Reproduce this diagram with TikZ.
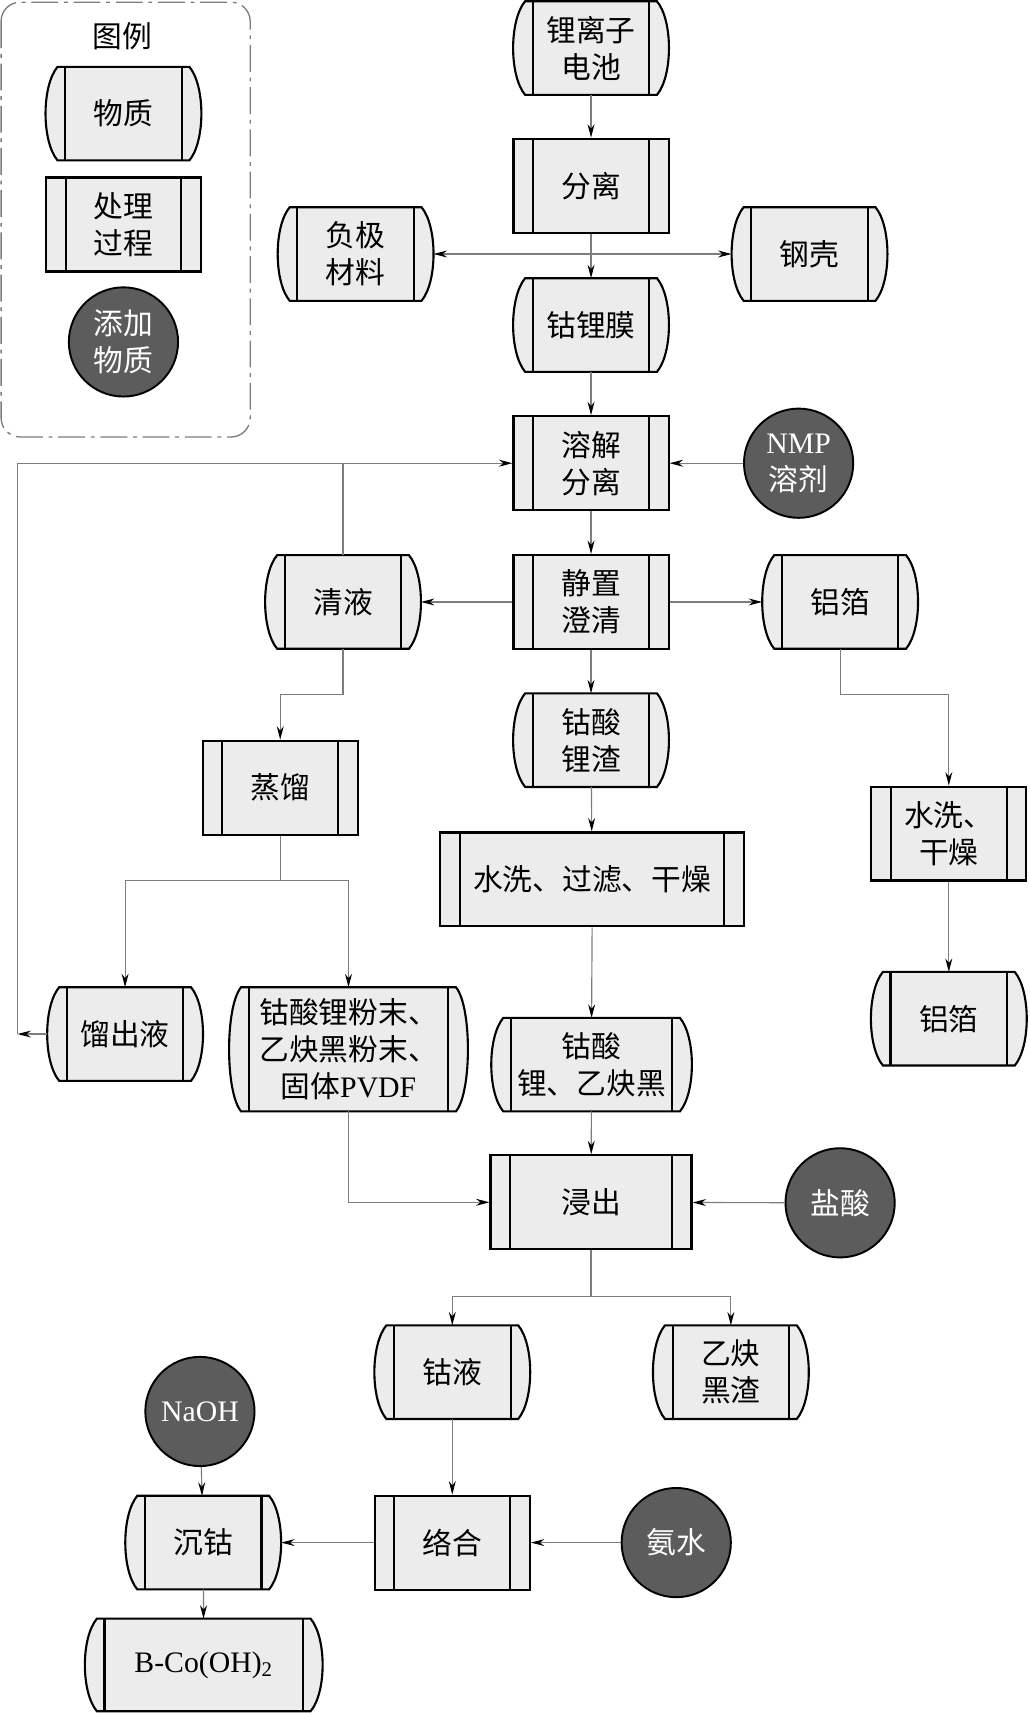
\documentclass[tikz,border=0pt]{standalone}
\usepackage{fontspec}
\setmainfont{Liberation Serif}
\newfontfamily\cjk{Noto Sans CJK SC}
\usepackage{xcolor}
\definecolor{BoxGray}{RGB}{236,236,236}
\definecolor{AddGray}{RGB}{92,92,92}
\definecolor{LineGray}{RGB}{125,125,125}
\usepackage{tikz}
\usetikzlibrary{arrows.meta, backgrounds}
\newcommand{\entxt}[1]{{\rmfamily #1}}

\tikzset{
  inner bars/.style={path picture={
      \draw[line width=1.1pt]
        ([xshift=0.36cm]path picture bounding box.north west) -- ([xshift=0.36cm]path picture bounding box.south west)
        ([xshift=-0.36cm]path picture bounding box.north east) -- ([xshift=-0.36cm]path picture bounding box.south east);}},
  material/.style={rectangle, minimum width=#1, minimum height=1.7cm, inner sep=0pt, align=center},
  material/.default=2.84cm,
  capsule/.style={draw, line width=1.1pt, fill=BoxGray},
  process/.style={rectangle, draw, line width=1.1pt, fill=BoxGray, minimum width=#1,
    minimum height=1.72cm, inner sep=0pt, align=center, inner bars},
  process/.default=2.84cm,
  addition/.style={circle, draw, line width=1pt, fill=AddGray, text=white, minimum size=2cm,
    inner sep=0pt, align=center},
  flow/.style={draw=LineGray, line width=0.6pt, >={Stealth[length=7pt, width=3.6pt, color=black]}, ->},
  link/.style={draw=LineGray, line width=0.6pt},
  legend frame/.style={draw=LineGray, line width=0.7pt, rounded corners=0.35cm,
    dash pattern=on 14pt off 3pt on 2pt off 3pt},
  every node/.style={font=\cjk\fontsize{15.5}{19.3}\selectfont}
}

\begin{document}
\begin{tikzpicture}[x=0.02cm, y=-0.02cm]
\useasboundingbox (0,0) rectangle (942,1568);

% 图例 / legend
\draw[legend frame] (1,2) rectangle (229,400);
\node (legtitle) at (112,33) {图例};
\node[material] (legmat) at (113,104) {物质};
\node[process] (legproc) at (113,205.5) {处理\\过程};
\node[addition] (legadd) at (113,313) {添加\\物质};

% 拆解 / dismantling
\node[material] (battery) at (541,44) {锂离子\\电池};
\node[process] (sep) at (541,170) {分离};
\node[material] (anode) at (325.5,232.5) {负极\\材料};
\node[material] (shell) at (741,232.5) {钢壳};
\node[material] (film) at (541,297.5) {钴锂膜};

% 溶解 / dissolving
\node[process] (dissolve) at (541,424) {溶解\\分离};
\node[addition] (nmp) at (731,424) {\entxt{NMP}\\溶剂};
\node[process] (settle) at (541,551) {静置\\澄清};
\node[material] (clear) at (314,551) {清液};
\node[material] (foil) at (769,551) {铝箔};
\node[material] (slag) at (541,677.5) {钴酸\\锂渣};
\node[process] (distill) at (256.5,721) {蒸馏};
\node[process=5.56cm] (wash) at (542,805) {水洗、过滤、干燥};
\node[process] (washfoil) at (868.5,763) {水洗、\\干燥};
\node[material] (foilout) at (868.5,932.5) {铝箔};
\node[material] (distillate) at (114.5,946.5) {馏出液};
\node[material=4.36cm, minimum height=2.26cm] (powder) at (319,960.5) {钴酸锂粉末、\\乙炔黑粉末、\\固体\entxt{PVDF}};
\node[material=3.66cm] (licoo) at (541.5,974.5) {钴酸\\锂、乙炔黑};
\coordinate (loop) at (16,946.5);

% 浸出 / leaching
\node[process=3.68cm] (leach) at (541,1100.5) {浸出};
\node[addition] (hcl) at (769,1101) {盐酸};
\node[material] (coliq) at (414,1256) {钴液};
\node[material] (blackres) at (669,1256) {乙炔\\黑渣};
\node[process] (complex) at (414,1412) {络合};
\node[addition] (ammonia) at (619,1412) {氨水};
\node[addition] (naoh) at (183,1292) {\entxt{NaOH}};
\node[material] (precip) at (186,1412) {沉钴};
\node[material=4.34cm, minimum height=1.68cm] (product) at (186.5,1524) {\entxt{B-Co(OH)\textsubscript{2}}};

% 物质外形 / material outlines
\begin{scope}[on background layer]
\foreach \nd in {legmat, battery, anode, shell, film, clear, foil, slag, foilout, distillate,
                 powder, licoo, coliq, blackres, precip, product} {
  \draw[capsule] ([xshift=0.22cm]\nd.north west) -- ([xshift=-0.22cm]\nd.north east)
    .. controls +(0.293cm,-0.35cm) and +(0.293cm,0.35cm) .. ([xshift=-0.22cm]\nd.south east)
    -- ([xshift=0.22cm]\nd.south west)
    .. controls +(-0.293cm,0.35cm) and +(-0.293cm,-0.35cm) .. cycle;
  \draw[line width=1.1pt] ([xshift=0.36cm]\nd.north west) -- ([xshift=0.36cm]\nd.south west)
    ([xshift=-0.36cm]\nd.north east) -- ([xshift=-0.36cm]\nd.south east);
}
\end{scope}

% 连线 / connectors
\draw[flow] (battery) -- (sep);
\draw[flow] (sep) -- (film);
\draw[flow, <->] (anode) -- (shell);
\draw[flow] (film) -- (dissolve);
\draw[flow] (nmp) -- (dissolve);
\draw[flow] (dissolve) -- (settle);
\draw[flow] (settle) -- (clear);
\draw[flow] (settle) -- (foil);
\draw[link] (clear.north) -- (clear.north |- dissolve.west);
\draw[flow] (distillate.west) -- (loop);
\draw[flow] (loop) |- (dissolve.west);
\draw[flow] (settle) -- (slag);
\draw[flow] (clear.south) -- ++(0,42) -| (distill.north);
\draw[flow] (foil.south) -- ++(0,42) -| (washfoil.north);
\draw[flow] (slag) -- (wash);
\draw[flow] (washfoil) -- (foilout);
\draw[flow] (distill.south) -- ++(0,41) -| (distillate.north);
\draw[flow] (distill.south) -- ++(0,41) -| (powder.north);
\draw[flow] (wash.south) -- (licoo.north);
\draw[flow] (powder.south) |- (leach.west);
\draw[flow] (licoo) -- (leach);
\draw[flow] (hcl) -- (leach);
\draw[flow] (leach.south) -- ++(0,42) -| (coliq.north);
\draw[flow] (leach.south) -- ++(0,42) -| (blackres.north);
\draw[flow] (coliq) -- (complex);
\draw[flow] (ammonia) -- (complex);
\draw[flow] (complex) -- (precip);
\draw[flow] (naoh) -- (precip);
\draw[flow] (precip) -- (product);
\end{tikzpicture}
\end{document}
